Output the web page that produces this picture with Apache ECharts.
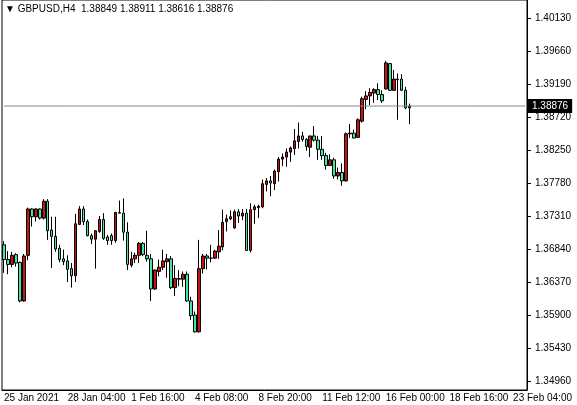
<!DOCTYPE html>
<html>
<head>
<meta charset="utf-8">
<script src="https://cdn.jsdelivr.net/npm/echarts@6/dist/echarts.min.js"></script>
<style>
	html, body { margin: 0; padding: 0; background: #fff; }
	#chart { width: 577px; height: 405px; }
</style>
</head>
<body>
<div id="chart"></div>
<script>
	// open, close, low, high
	var opens = [1.3690, 1.3669, 1.3662, 1.3676, 1.3665, 1.3610, 1.3675, 1.3741, 1.3730, 1.3741,
		1.3728, 1.3752, 1.3711, 1.3702, 1.3685, 1.3670, 1.3667, 1.3656, 1.3646, 1.3719,
		1.3741, 1.3723, 1.3703, 1.3698, 1.3709, 1.3726, 1.3701, 1.3703, 1.3696, 1.3736,
		1.3735, 1.3708, 1.3661, 1.3670, 1.3675, 1.3692, 1.3675, 1.3670, 1.3627, 1.3652,
		1.3658, 1.3666, 1.3670, 1.3629, 1.3641, 1.3641, 1.3648, 1.3610, 1.3590, 1.3566,
		1.3656, 1.3674, 1.3671, 1.3671, 1.3680, 1.3687, 1.3723, 1.3727, 1.3714, 1.3737,
		1.3731, 1.3735, 1.3682, 1.3740, 1.3743, 1.3744, 1.3776, 1.3781, 1.3777, 1.3794,
		1.3812, 1.3815, 1.3822, 1.3827, 1.3837, 1.3845, 1.3840, 1.3829, 1.3845, 1.3839,
		1.3826, 1.3817, 1.3803, 1.3811, 1.3788, 1.3793, 1.3781, 1.3848, 1.3849, 1.3843,
		1.3866, 1.3897, 1.3902, 1.3906, 1.3911, 1.3904, 1.3912, 1.3948, 1.3910, 1.3926,
		1.3926, 1.3910, 1.38849];
	var closes = [1.3669, 1.3662, 1.3675, 1.3664, 1.3610, 1.3674, 1.3741, 1.3730, 1.3741, 1.3728,
		1.3752, 1.3710, 1.3702, 1.3684, 1.3669, 1.3666, 1.3655, 1.3646, 1.3720, 1.3741,
		1.3723, 1.3703, 1.3698, 1.3710, 1.3726, 1.3699, 1.3696, 1.3696, 1.3736, 1.3735,
		1.3708, 1.3662, 1.3670, 1.3675, 1.3692, 1.3676, 1.3670, 1.3627, 1.3654, 1.3658,
		1.3667, 1.3670, 1.3629, 1.3642, 1.3642, 1.3648, 1.3610, 1.3589, 1.3566, 1.3656,
		1.3674, 1.3671, 1.3671, 1.3681, 1.3688, 1.3722, 1.3727, 1.3730, 1.3737, 1.3731,
		1.3735, 1.3682, 1.3740, 1.3744, 1.3745, 1.3777, 1.3781, 1.3778, 1.3795, 1.3812,
		1.3815, 1.3822, 1.3828, 1.3838, 1.3845, 1.3840, 1.3830, 1.3845, 1.3839, 1.3826,
		1.3817, 1.3803, 1.3811, 1.3788, 1.3793, 1.3781, 1.3848, 1.3849, 1.3842, 1.3868,
		1.3898, 1.3902, 1.3907, 1.3911, 1.3904, 1.3895, 1.3949, 1.3910, 1.3926, 1.3925,
		1.3910, 1.3885, 1.38876];
	var lows = [1.3650, 1.3648, 1.3658, 1.3659, 1.3608, 1.3609, 1.3668, 1.3716, 1.3723, 1.3726,
		1.3726, 1.3697, 1.3657, 1.3680, 1.3665, 1.3661, 1.3637, 1.3629, 1.3637, 1.3718,
		1.3718, 1.3702, 1.3691, 1.3656, 1.3707, 1.3697, 1.3690, 1.3690, 1.3693, 1.3735,
		1.3696, 1.3654, 1.3658, 1.3664, 1.3664, 1.3674, 1.3666, 1.3610, 1.3626, 1.3645,
		1.3654, 1.3643, 1.3627, 1.3617, 1.3631, 1.3630, 1.3609, 1.3583, 1.3565, 1.3565,
		1.3649, 1.3655, 1.3665, 1.3670, 1.3670, 1.3682, 1.3709, 1.3725, 1.3713, 1.3721,
		1.3725, 1.3682, 1.3679, 1.3720, 1.3728, 1.3742, 1.3766, 1.3759, 1.3768, 1.3780,
		1.3802, 1.3801, 1.3808, 1.3818, 1.3827, 1.3837, 1.3824, 1.3815, 1.3837, 1.3811,
		1.3811, 1.3797, 1.3802, 1.3784, 1.3783, 1.3774, 1.3780, 1.3842, 1.3842, 1.3842,
		1.3864, 1.3883, 1.3889, 1.3892, 1.3896, 1.3892, 1.3911, 1.3909, 1.3909, 1.3868,
		1.3909, 1.3883, 1.38616];
	var highs = [1.3695, 1.3681, 1.3680, 1.3678, 1.3666, 1.3677, 1.3743, 1.3742, 1.3742, 1.3742,
		1.3755, 1.3755, 1.3730, 1.3730, 1.3690, 1.3683, 1.3675, 1.3664, 1.3734, 1.3745,
		1.3745, 1.3726, 1.3706, 1.3711, 1.3731, 1.3735, 1.3704, 1.3706, 1.3737, 1.3753,
		1.3756, 1.3722, 1.3680, 1.3679, 1.3694, 1.3694, 1.3710, 1.3677, 1.3655, 1.3669,
		1.3683, 1.3677, 1.3674, 1.3661, 1.3654, 1.3652, 1.3652, 1.3616, 1.3595, 1.3697,
		1.3677, 1.3677, 1.3690, 1.3683, 1.3711, 1.3740, 1.3733, 1.3739, 1.3740, 1.3741,
		1.3741, 1.3741, 1.3749, 1.3747, 1.3747, 1.3783, 1.3785, 1.3788, 1.3797, 1.3815,
		1.3820, 1.3827, 1.3830, 1.3855, 1.3864, 1.3851, 1.3842, 1.3845, 1.3859, 1.3845,
		1.3845, 1.3821, 1.3819, 1.3814, 1.3800, 1.3806, 1.3850, 1.3862, 1.3854, 1.3870,
		1.3901, 1.3909, 1.3913, 1.3913, 1.3920, 1.3910, 1.3952, 1.3949, 1.3939, 1.3934,
		1.3933, 1.3915, 1.38911];

	var priceTicks = [1.34960, 1.35430, 1.35900, 1.36370, 1.36840, 1.37310, 1.37780, 1.38250, 1.38720, 1.39190, 1.39660, 1.40130];
	var lastPrice = 1.38876;
	var slotCount = 132;
	var months = ["Jan", "Feb", "Mar"];
	var font = "Liberation Sans";

	// H4 bars: Mon-Fri plus the Sunday 20:00 bar, first bar 25 Jan 2021 12:00
	var categories = [];
	var t = Date.UTC(2021, 0, 25, 12);
	while (categories.length < slotCount) {
		var d = new Date(t);
		var wd = d.getUTCDay(), hh = d.getUTCHours();
		if ((wd !== 0 && wd !== 6) || (wd === 0 && hh === 20)) {
			categories.push(d.getUTCDate() + " " + months[d.getUTCMonth()] + " " + (hh < 10 ? "0" : "") + hh + ":00");
		}
		t += 4 * 3600 * 1000;
	}
	categories[0] = "25 Jan 2021";

	var candles = [];
	for (var i = 0; i < opens.length; i++) {
		candles.push([opens[i], closes[i], lows[i], highs[i]]);
	}
	var priceLine = [];
	for (var j = 0; j < slotCount; j++) priceLine.push(lastPrice);

	var myChart = echarts.init(document.getElementById("chart"));
	myChart.setOption({
		animation: false,
		textStyle: { fontFamily: font },
		grid: { left: 2, right: 50, top: 0, bottom: 15, show: true, borderColor: "#000", borderWidth: 1 },
		graphic: [{
			type: "text", left: 5, top: 4,
			style: { text: "\u25BC GBPUSD,H4  1.38849 1.38911 1.38616 1.38876", fontSize: 10, fill: "#000", fontFamily: font }
		}],
		xAxis: {
			type: "category",
			data: categories,
			axisLine: { lineStyle: { color: "#000" } },
			axisTick: { interval: 15, length: 3, lineStyle: { color: "#000" } },
			axisLabel: { interval: 15, color: "#000", fontSize: 10, margin: 3, align: "left", fontFamily: font },
			splitLine: { show: false }
		},
		yAxis: {
			type: "value",
			position: "right",
			min: 1.34832,
			max: 1.40386,
			axisLine: { show: true, lineStyle: { color: "#000" } },
			axisTick: { show: true, length: 4, customValues: priceTicks, lineStyle: { color: "#000" } },
			axisLabel: {
				customValues: priceTicks, color: "#000", fontSize: 10, margin: 8, fontFamily: font,
				formatter: function(v) { return v.toFixed(5); }
			},
			splitLine: { show: false }
		},
		series: [{
			type: "line",
			data: priceLine,
			symbol: "none",
			silent: true,
			lineStyle: { color: "#778899", width: 1 },
			endLabel: {
				show: true, distance: 3, color: "#fff", backgroundColor: "#000",
				padding: [2, 4], fontSize: 10, fontFamily: font,
				formatter: function() { return lastPrice.toFixed(5); }
			}
		}, {
			type: "candlestick",
			data: candles,
			barWidth: 3,
			itemStyle: {
				color: "#cc1111",
				color0: "#3ee8a6",
				borderColor: "#000",
				borderColor0: "#000",
				borderWidth: 1
			}
		}]
	});
</script>
</body>
</html>
